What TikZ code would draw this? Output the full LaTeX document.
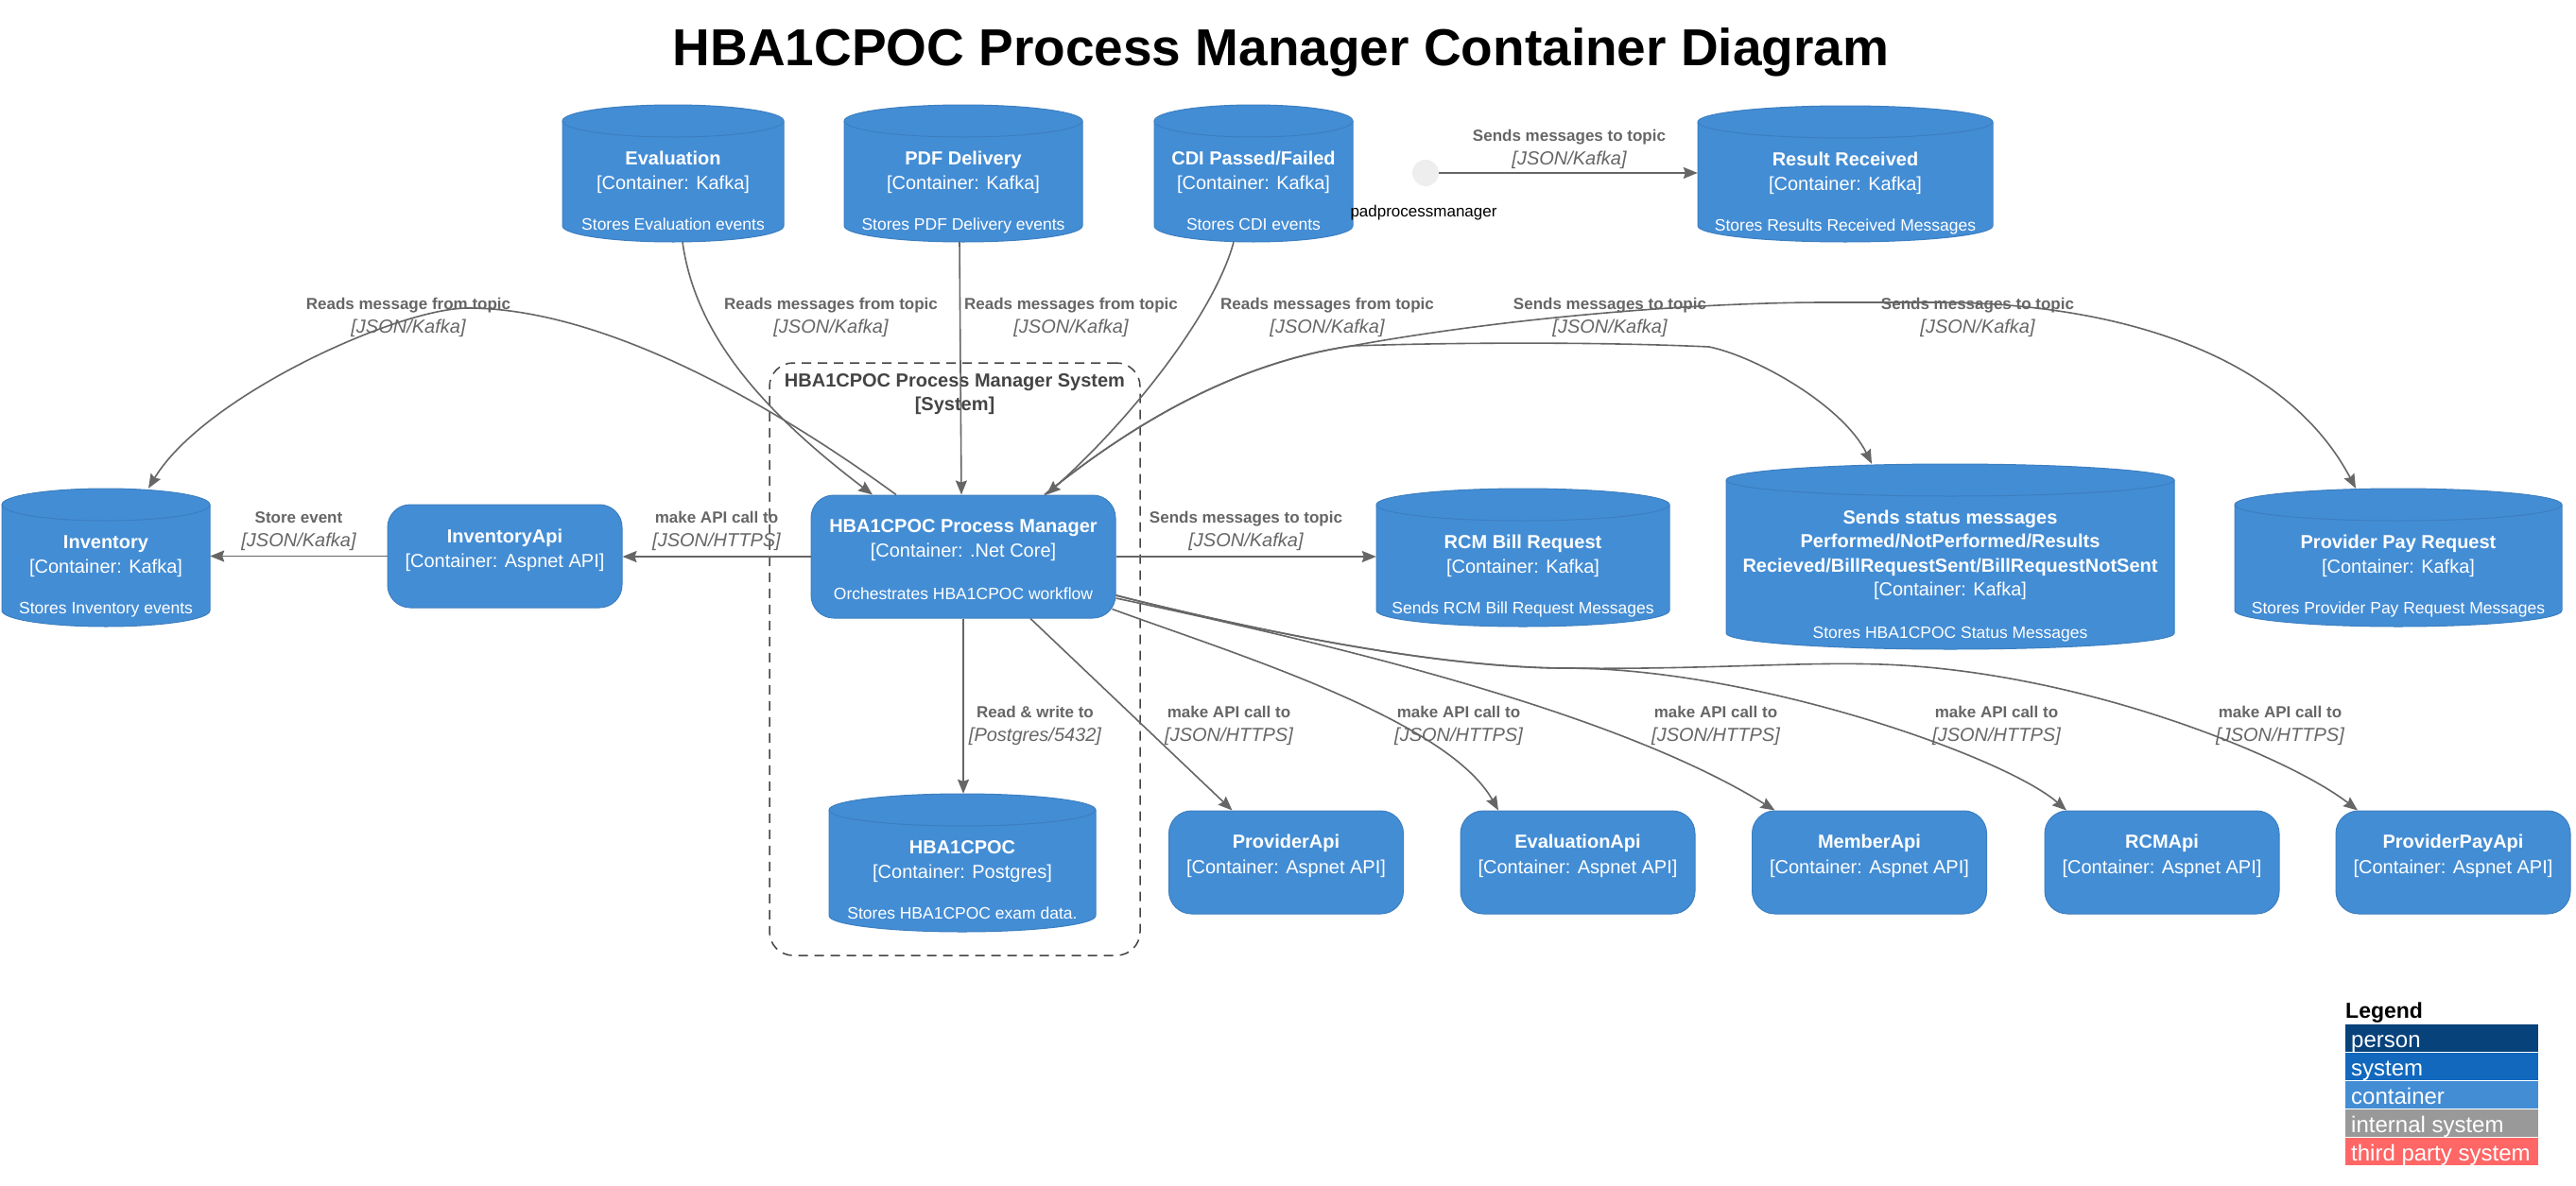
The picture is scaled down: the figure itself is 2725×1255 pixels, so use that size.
\documentclass[tikz,border=0pt]{standalone}
\usepackage{fontspec}
\setmainfont{Liberation Sans}
\usetikzlibrary{arrows.meta,calc}
\definecolor{boxfill}{HTML}{438DD5}
\definecolor{boxline}{HTML}{3C7FC0}
\definecolor{edgegray}{HTML}{666666}
\definecolor{bndgray}{HTML}{444444}
\definecolor{padgray}{HTML}{EEEEEE}
\definecolor{lgperson}{HTML}{08427B}
\definecolor{lgsystem}{HTML}{1168BD}
\definecolor{lgcontainer}{HTML}{438DD5}
\definecolor{lginternal}{HTML}{999999}
\definecolor{lgthird}{HTML}{FF6666}
\tikzset{
 nm/.style={font=\fontsize{20}{24}\selectfont\bfseries, text=white, inner sep=0pt},
 ty/.style={font=\fontsize{20}{24}\selectfont, text=white, inner sep=0pt},
 ds/.style={font=\fontsize{17.5}{21}\selectfont, text=white, inner sep=0pt},
 el/.style={font=\fontsize{17}{20}\selectfont\bfseries, text=edgegray, inner sep=0pt},
 et/.style={font=\fontsize{20}{24}\selectfont\itshape, text=edgegray, inner sep=0pt},
 bl/.style={font=\fontsize{20}{24}\selectfont\bfseries, text=bndgray, inner sep=0pt},
 rb/.style={draw=boxline, fill=boxfill, rounded corners=24pt, line width=1pt, inner sep=0pt},
 rel/.style={draw=edgegray, line width=1.6pt, -{Stealth[length=15pt,width=12pt,inset=2pt]}},
 lgrow/.style={minimum width=204, minimum height=29, anchor=north west, inner sep=0pt},
 lgtext/.style={font=\fontsize{24}{28}\selectfont, text=white, anchor=base west, inner sep=0pt},
}
\newcommand{\kafka}[5]{%
 \pgfmathsetmacro{\kxl}{#2-#4/2}%
 \pgfmathsetmacro{\kxr}{#2+#4/2}%
 \pgfmathsetmacro{\krx}{#4/2}%
 \pgfmathsetmacro{\kyt}{-#3-17}%
 \pgfmathsetmacro{\kyb}{-#3-#5+17}%
 \pgfmathsetmacro{\kcy}{-#3-#5/2}%
 \filldraw[fill=boxfill, draw=boxline, line width=1pt] (\kxl,\kyt) -- (\kxl,\kyb) arc[start angle=180,end angle=360,x radius=\krx,y radius=17] -- (\kxr,\kyt) arc[start angle=0,end angle=180,x radius=\krx,y radius=17] -- cycle;%
 \draw[boxline, line width=1pt] (\kxl,\kyt) arc[start angle=180,end angle=360,x radius=\krx,y radius=17];%
 \node[inner sep=0pt, minimum width=#4, minimum height=#5] (#1) at (#2,\kcy) {};%
}
\newcommand{\ktext}[6]{%
 \pgfmathsetmacro{\kba}{#3+63}%
 \pgfmathsetmacro{\kbb}{#3+89}%
 \pgfmathsetmacro{\kbc}{#3+132}%
 \node[nm,anchor=base] (#1-n) at (#2,-\kba) {#4};%
 \node[ty,anchor=base] (#1-t) at (#2,-\kbb) {#5};%
 \node[ds,anchor=base] (#1-d) at (#2,-\kbc) {#6};%
}
\newcommand{\elab}[5]{%
 \pgfmathsetmacro{\eyb}{#3+25}%
 \node[el,anchor=base] (#1-a) at (#2,-#3) {#4};%
 \node[et,anchor=base] (#1-b) at (#2,-\eyb) {#5};%
}
\begin{document}
\begin{tikzpicture}[x=1pt,y=1pt]
\fill[white] (0,0) rectangle (2725,-1255);
\useasboundingbox (0,0) rectangle (2725,-1255);

% title
\node[font=\fontsize{55}{66}\selectfont\bfseries, anchor=base, inner sep=0pt] (title) at (1355,-70) {HBA1CPOC Process Manager Container Diagram};

% system boundary
\node[draw=bndgray, line width=1.5pt, dash pattern=on 10pt off 7pt, rounded corners=25pt, minimum width=392, minimum height=627, inner sep=0pt] (bnd) at (1010,-697.5) {};
\node[bl,anchor=base] (bnd-a) at (1010,-409) {HBA1CPOC Process Manager System};
\node[bl,anchor=base] (bnd-b) at (1010,-434) {[System]};

% kafka topics and database
\kafka{ev}{712}{111}{234}{145}
\ktext{ev}{712}{111}{Evaluation}{[Container: Kafka]}{Stores Evaluation events}
\kafka{pdf}{1019}{111}{252}{145}
\ktext{pdf}{1019}{111}{PDF Delivery}{[Container: Kafka]}{Stores PDF Delivery events}
\kafka{cdi}{1326}{111}{210}{145}
\ktext{cdi}{1326}{111}{CDI Passed/Failed}{[Container: Kafka]}{Stores CDI events}
\kafka{rr}{1952}{112}{312}{144}
\ktext{rr}{1952}{112}{Result Received}{[Container: Kafka]}{Stores Results Received Messages}
\kafka{inv}{112}{517}{220}{146}
\ktext{inv}{112}{517}{Inventory}{[Container: Kafka]}{Stores Inventory events}
\kafka{rcm}{1611}{517}{310}{146}
\ktext{rcm}{1611}{517}{RCM Bill Request}{[Container: Kafka]}{Sends RCM Bill Request Messages}
\kafka{ppr}{2537}{517}{346}{146}
\ktext{ppr}{2537}{517}{Provider Pay Request}{[Container: Kafka]}{Stores Provider Pay Request Messages}
\kafka{sts}{2063}{491}{474}{196}
\node[nm,anchor=base] (sts-n1) at (2063,-554) {Sends status messages};
\node[nm,anchor=base] (sts-n2) at (2063,-579) {Performed/NotPerformed/Results};
\node[nm,anchor=base] (sts-n3) at (2063,-605) {Recieved/BillRequestSent/BillRequestNotSent};
\node[ty,anchor=base] (sts-t) at (2063,-630) {[Container: Kafka]};
\node[ds,anchor=base] (sts-d) at (2063,-675) {Stores HBA1CPOC Status Messages};
\kafka{db}{1018}{840}{282}{146}
\ktext{db}{1018}{840}{HBA1CPOC}{[Container: Postgres]}{Stores HBA1CPOC exam data.}

% rounded containers
\node[rb, minimum width=248, minimum height=109] (invapi) at (534,-588.5) {};
\node[nm,anchor=base] (invapi-n) at (534,-574) {InventoryApi};
\node[ty,anchor=base] (invapi-t) at (534,-600) {[Container: Aspnet API]};

\node[rb, minimum width=322, minimum height=130] (pm) at (1019,-589) {};
\node[nm,anchor=base] (pm-n) at (1019,-563) {HBA1CPOC Process Manager};
\node[ty,anchor=base] (pm-t) at (1019,-589) {[Container: .Net Core]};
\node[ds,anchor=base] (pm-d) at (1019,-634) {Orchestrates HBA1CPOC workflow};

\foreach \nm/\cx/\lb in {papi/1360.5/ProviderApi, eapi/1669/EvaluationApi, mapi/1977.5/MemberApi, rapi/2287/RCMApi, ppapi/2595/ProviderPayApi}{
 \node[rb, minimum width=248, minimum height=109] (\nm) at (\cx,-912.5) {};
 \node[nm,anchor=base] (\nm-n) at (\cx,-897) {\lb};
 \node[ty,anchor=base] (\nm-t) at (\cx,-924) {[Container: Aspnet API]};
}

% pad process manager
\node[circle, fill=padgray, minimum size=28, inner sep=0pt] (pad) at (1508,-183) {};
\node[font=\fontsize{17}{20}\selectfont, anchor=base, inner sep=0pt] (pad-l) at (1506,-229) {padprocessmanager};

% connectors
\draw[rel] ($(pm.north)+(-71,0)$) .. controls (820,-430) and (640,-326) .. (495,-326) .. controls (420,-326) and (215,-420) .. ($(inv.north)+(45,0)$);
\draw[rel] ($(ev.south)+(10,0)$) .. controls (735,-350) and (800,-430) .. ($(pm.north)+(-96,0)$);
\draw[rel] ($(pdf.south)+(-4,0)$) -- ($(pm.north)+(-2,0)$);
\draw[rel] ($(cdi.south)+(-21,0)$) .. controls (1285,-330) and (1200,-440) .. ($(pm.north)+(88,0)$);
\draw[rel] ($(pm.north)+(86,0)$) .. controls (1190,-455) and (1300,-385) .. (1430,-366) .. controls (1550,-362) and (1700,-362) .. (1808,-367) .. controls (1860,-378) and (1950,-430) .. ($(sts.north)+(-83,0)$);
\draw[rel] ($(pm.north)+(86,0)$) .. controls (1190,-455) and (1300,-385) .. (1430,-366) .. controls (1600,-335) and (1800,-320) .. (1932,-320) -- (2047,-320) .. controls (2250,-320) and (2420,-380) .. ($(ppr.north)+(-45,0)$);
\draw[rel] (pad.east) -- (pad.east -| rr.west);
\draw[rel] (pm.west) -- (pm.west -| invapi.east);
\draw[rel] (invapi.west) -- (invapi.west -| inv.east);
\draw[rel] (pm.east) -- (pm.east -| rcm.west);
\draw[rel] (pm.south) -- (pm.south |- db.north);
\draw[rel] ($(pm.south)+(71,0)$) -- ($(papi.north)+(-57,0)$);
\draw[rel] ($(pm.south east)+(-4,10)$) .. controls (1300,-690) and (1530,-760) .. ($(eapi.north)+(-84,0)$);
\draw[rel] ($(pm.east)+(0,-44)$) .. controls (1450,-690) and (1720,-760) .. ($(mapi.north)+(-100,0)$);
\draw[rel] ($(pm.east)+(0,-41)$) .. controls (1300,-660) and (1500,-705) .. (1650,-707) .. controls (1850,-705) and (2120,-800) .. ($(rapi.north)+(-101,0)$);
\draw[rel] ($(pm.east)+(0,-41)$) .. controls (1300,-660) and (1500,-705) .. (1650,-707) .. controls (1800,-709) and (1900,-700) .. (1990,-703) .. controls (2200,-710) and (2420,-800) .. ($(ppapi.north)+(-101,0)$);

% connector labels
\elab{l1}{432}{327}{Reads message from topic}{[JSON/Kafka]}
\elab{l2}{879}{327}{Reads messages from topic}{[JSON/Kafka]}
\elab{l3}{1133}{327}{Reads messages from topic}{[JSON/Kafka]}
\elab{l4}{1404}{327}{Reads messages from topic}{[JSON/Kafka]}
\elab{l5}{1703}{327}{Sends messages to topic}{[JSON/Kafka]}
\elab{l6}{2092}{327}{Sends messages to topic}{[JSON/Kafka]}
\elab{l7}{1660}{149}{Sends messages to topic}{[JSON/Kafka]}
\elab{l8}{316}{553}{Store event}{[JSON/Kafka]}
\elab{l9}{758}{553}{make API call to}{[JSON/HTTPS]}
\elab{l10}{1318}{553}{Sends messages to topic}{[JSON/Kafka]}
\elab{l11}{1095}{759}{Read \& write to}{[Postgres/5432]}
\elab{l12}{1300}{759}{make API call to}{[JSON/HTTPS]}
\elab{l13}{1543}{759}{make API call to}{[JSON/HTTPS]}
\elab{l14}{1815}{759}{make API call to}{[JSON/HTTPS]}
\elab{l15}{2112}{759}{make API call to}{[JSON/HTTPS]}
\elab{l16}{2412}{759}{make API call to}{[JSON/HTTPS]}

% legend
\node[font=\fontsize{23}{28}\selectfont\bfseries, anchor=base west, inner sep=0pt] (lg-h) at (2481,-1077) {Legend};
\node[lgrow, fill=lgperson] (lg-1) at (2481,-1084) {};
\node[lgtext] (lg-1t) at (2487,-1108) {person};
\node[lgrow, fill=lgsystem] (lg-2) at (2481,-1114) {};
\node[lgtext] (lg-2t) at (2487,-1138) {system};
\node[lgrow, fill=lgcontainer] (lg-3) at (2481,-1144) {};
\node[lgtext] (lg-3t) at (2487,-1168) {container};
\node[lgrow, fill=lginternal] (lg-4) at (2481,-1174) {};
\node[lgtext] (lg-4t) at (2487,-1198) {internal system};
\node[lgrow, fill=lgthird] (lg-5) at (2481,-1204) {};
\node[lgtext] (lg-5t) at (2487,-1228) {third party system};
\end{tikzpicture}
\end{document}
